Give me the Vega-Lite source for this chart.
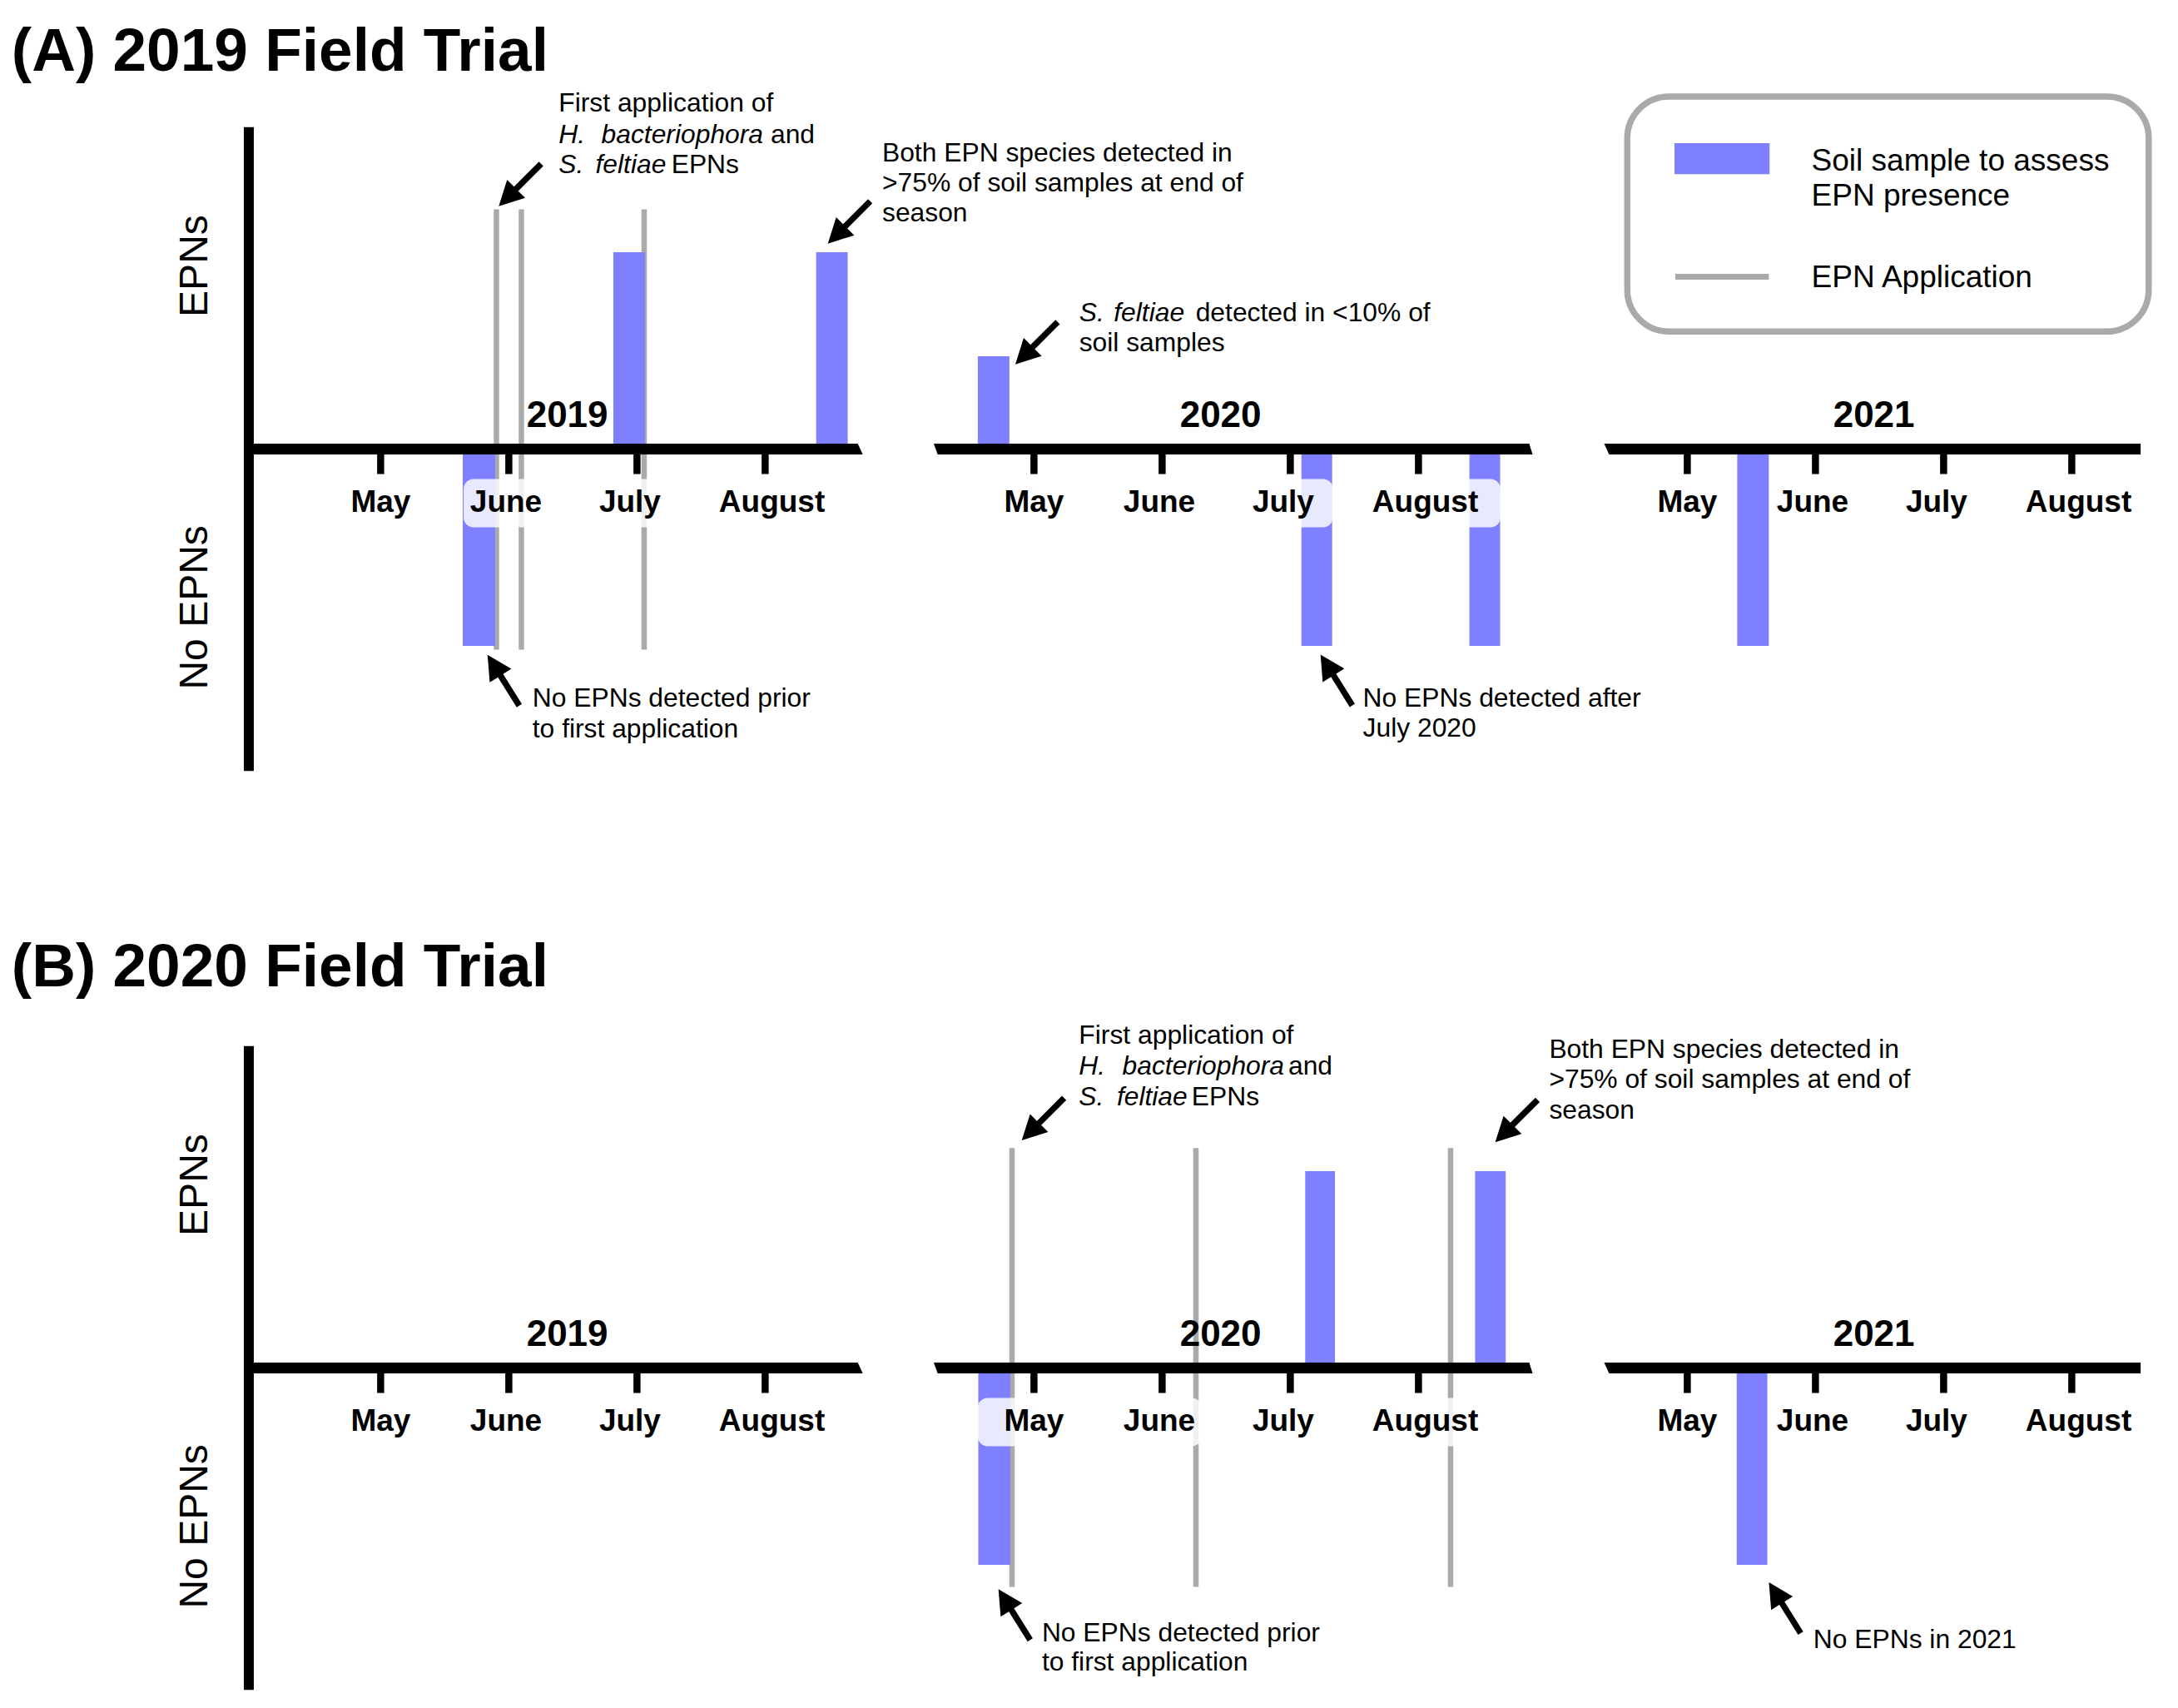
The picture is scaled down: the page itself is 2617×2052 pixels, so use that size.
{
  "$schema": "https://vega.github.io/schema/vega-lite/v6.json",
  "padding": 0,
  "background": "white",
  "bounds": "flush",
  "spacing": {"row": 156, "column": 0},
  "data": {"values": [
    {"kind":"axis","trial":"A","year":2019,"y":0.0275,"x":3.9714,"x2":8.7227},
    {"kind":"axis","trial":"A","year":2019,"y":-0.0275,"x":3.9714,"x2":8.7617},
    {"kind":"axis","trial":"A","year":2020,"y":0.0275,"x":4.2182,"x2":8.8643},
    {"kind":"axis","trial":"A","year":2020,"y":-0.0275,"x":4.2487,"x2":8.8903},
    {"kind":"axis","trial":"A","year":2021,"y":0.0275,"x":4.3513,"x2":8.5371},
    {"kind":"axis","trial":"A","year":2021,"y":-0.0275,"x":4.3903,"x2":8.5371},
    {"kind":"axis","trial":"B","year":2019,"y":0.0275,"x":3.9714,"x2":8.7227},
    {"kind":"axis","trial":"B","year":2019,"y":-0.0275,"x":3.9714,"x2":8.7617},
    {"kind":"axis","trial":"B","year":2020,"y":0.0275,"x":4.2182,"x2":8.8643},
    {"kind":"axis","trial":"B","year":2020,"y":-0.0275,"x":4.2487,"x2":8.8903},
    {"kind":"axis","trial":"B","year":2021,"y":0.0275,"x":4.3513,"x2":8.5371},
    {"kind":"axis","trial":"B","year":2021,"y":-0.0275,"x":4.3903,"x2":8.5371},

    {"kind":"vaxis","trial":"A","year":2019,"x":3.9714,"y":-1.635,"y2":1.635},
    {"kind":"vaxis","trial":"B","year":2019,"x":3.9714,"y":-1.635,"y2":1.635},

    {"kind":"month","trial":"A","year":2019,"x":5,"lx":5.0,"text":"May","b0":4.5604,"b1":5.38},
    {"kind":"month","trial":"A","year":2019,"x":6,"lx":5.978,"text":"June","b0":5.647,"b1":6.309},
    {"kind":"month","trial":"A","year":2019,"x":7,"lx":6.945,"text":"July","b0":6.564,"b1":7.333},
    {"kind":"month","trial":"A","year":2019,"x":8,"lx":8.053,"text":"August","b0":7.465,"b1":8.64},
    {"kind":"month","trial":"A","year":2020,"x":5,"lx":5.0,"text":"May","b0":4.5604,"b1":5.38},
    {"kind":"month","trial":"A","year":2020,"x":6,"lx":5.978,"text":"June","b0":5.647,"b1":6.309},
    {"kind":"month","trial":"A","year":2020,"x":7,"lx":6.945,"text":"July","b0":6.564,"b1":7.333},
    {"kind":"month","trial":"A","year":2020,"x":8,"lx":8.053,"text":"August","b0":7.465,"b1":8.64},
    {"kind":"month","trial":"A","year":2021,"x":5,"lx":5.0,"text":"May","b0":4.5604,"b1":5.38},
    {"kind":"month","trial":"A","year":2021,"x":6,"lx":5.978,"text":"June","b0":5.647,"b1":6.309},
    {"kind":"month","trial":"A","year":2021,"x":7,"lx":6.945,"text":"July","b0":6.564,"b1":7.333},
    {"kind":"month","trial":"A","year":2021,"x":8,"lx":8.053,"text":"August","b0":7.465,"b1":8.64},
    {"kind":"month","trial":"B","year":2019,"x":5,"lx":5.0,"text":"May","b0":4.5604,"b1":5.38},
    {"kind":"month","trial":"B","year":2019,"x":6,"lx":5.978,"text":"June","b0":5.647,"b1":6.309},
    {"kind":"month","trial":"B","year":2019,"x":7,"lx":6.945,"text":"July","b0":6.564,"b1":7.333},
    {"kind":"month","trial":"B","year":2019,"x":8,"lx":8.053,"text":"August","b0":7.465,"b1":8.64},
    {"kind":"month","trial":"B","year":2020,"x":5,"lx":5.0,"text":"May","b0":4.5604,"b1":5.38},
    {"kind":"month","trial":"B","year":2020,"x":6,"lx":5.978,"text":"June","b0":5.647,"b1":6.309},
    {"kind":"month","trial":"B","year":2020,"x":7,"lx":6.945,"text":"July","b0":6.564,"b1":7.333},
    {"kind":"month","trial":"B","year":2020,"x":8,"lx":8.053,"text":"August","b0":7.465,"b1":8.64},
    {"kind":"month","trial":"B","year":2021,"x":5,"lx":5.0,"text":"May","b0":4.5604,"b1":5.38},
    {"kind":"month","trial":"B","year":2021,"x":6,"lx":5.978,"text":"June","b0":5.647,"b1":6.309},
    {"kind":"month","trial":"B","year":2021,"x":7,"lx":6.945,"text":"July","b0":6.564,"b1":7.333},
    {"kind":"month","trial":"B","year":2021,"x":8,"lx":8.053,"text":"August","b0":7.465,"b1":8.64},

    {"kind":"year","trial":"A","year":2019,"x":6.456,"y":0.11,"text":"2019"},
    {"kind":"year","trial":"A","year":2020,"x":6.456,"y":0.11,"text":"2020"},
    {"kind":"year","trial":"A","year":2021,"x":6.456,"y":0.11,"text":"2021"},
    {"kind":"year","trial":"B","year":2019,"x":6.456,"y":0.11,"text":"2019"},
    {"kind":"year","trial":"B","year":2020,"x":6.456,"y":0.11,"text":"2020"},
    {"kind":"year","trial":"B","year":2021,"x":6.456,"y":0.11,"text":"2021"},

    {"kind":"ylab","trial":"A","year":2019,"x":3.647,"y":0.93,"text":"EPNs"},
    {"kind":"ylab","trial":"A","year":2019,"x":3.647,"y":-0.805,"text":"No EPNs"},
    {"kind":"ylab","trial":"B","year":2019,"x":3.647,"y":0.93,"text":"EPNs"},
    {"kind":"ylab","trial":"B","year":2019,"x":3.647,"y":-0.805,"text":"No EPNs"},

    {"kind":"title","trial":"A","year":2019,"x":2.12,"y":1.9218,"text":"(A) 2019 Field Trial"},
    {"kind":"title","trial":"B","year":2019,"x":2.12,"y":1.9387,"text":"(B) 2020 Field Trial"},

    {"kind":"app","trial":"A","year":2019,"x":5.9032,"y":1.2178,"y2":-1.0195},
    {"kind":"app","trial":"A","year":2019,"x":6.098,"y":1.2178,"y2":-1.0195},
    {"kind":"app","trial":"A","year":2019,"x":7.0558,"y":1.2178,"y2":-1.0195},
    {"kind":"app","trial":"B","year":2020,"x":4.8286,"y":1.117,"y2":-1.112},
    {"kind":"app","trial":"B","year":2020,"x":6.2636,"y":1.117,"y2":-1.112},
    {"kind":"app","trial":"B","year":2020,"x":8.2506,"y":1.117,"y2":-1.112},

    {"kind":"sample","trial":"A","year":2019,"x":5.6403,"x2":5.8935,"y":-1},
    {"kind":"sample","trial":"A","year":2019,"x":6.8155,"x2":7.0623,"y":1},
    {"kind":"sample","trial":"A","year":2019,"x":8.3981,"x2":8.6442,"y":1},
    {"kind":"sample","trial":"A","year":2020,"x":4.5617,"x2":4.8084,"y":0.4715},
    {"kind":"sample","trial":"A","year":2020,"x":7.0864,"x2":7.3266,"y":-1},
    {"kind":"sample","trial":"A","year":2020,"x":8.3974,"x2":8.637,"y":-1},
    {"kind":"sample","trial":"A","year":2021,"x":5.3896,"x2":5.6364,"y":-1},
    {"kind":"sample","trial":"B","year":2020,"x":4.5656,"x2":4.8156,"y":-1},
    {"kind":"sample","trial":"B","year":2020,"x":7.1162,"x2":7.3487,"y":1},
    {"kind":"sample","trial":"B","year":2020,"x":8.4416,"x2":8.6805,"y":1},
    {"kind":"sample","trial":"B","year":2021,"x":5.3857,"x2":5.6247,"y":-1},

    {"kind":"note","s":"n","trial":"A","year":2019,"x":6.389,"y":1.7125,"text":"First application of"},
    {"kind":"note","s":"i","trial":"A","year":2019,"x":6.389,"y":1.556,"text":"H."},
    {"kind":"note","s":"i","trial":"A","year":2019,"x":6.7221,"y":1.556,"text":"bacteriophora"},
    {"kind":"note","s":"n","trial":"A","year":2019,"x":8.0429,"y":1.556,"text":"and"},
    {"kind":"note","s":"i","trial":"A","year":2019,"x":6.389,"y":1.4021,"text":"S."},
    {"kind":"note","s":"i","trial":"A","year":2019,"x":6.676,"y":1.4021,"text":"feltiae"},
    {"kind":"note","s":"n","trial":"A","year":2019,"x":7.2682,"y":1.4021,"text":"EPNs"},
    {"kind":"note","s":"n","trial":"A","year":2019,"x":8.913,"y":1.4617,"text":"Both EPN species detected in"},
    {"kind":"note","s":"n","trial":"A","year":2019,"x":8.913,"y":1.3095,"text":">75% of soil samples at end of"},
    {"kind":"note","s":"n","trial":"A","year":2019,"x":8.913,"y":1.1569,"text":"season"},
    {"kind":"note","s":"n","trial":"A","year":2019,"x":6.1844,"y":-1.3066,"text":"No EPNs detected prior"},
    {"kind":"note","s":"n","trial":"A","year":2019,"x":6.1844,"y":-1.4651,"text":"to first application"},
    {"kind":"note","s":"i","trial":"A","year":2020,"x":5.3526,"y":0.649,"text":"S."},
    {"kind":"note","s":"i","trial":"A","year":2020,"x":5.6227,"y":0.649,"text":"feltiae"},
    {"kind":"note","s":"n","trial":"A","year":2020,"x":6.2617,"y":0.649,"text":"detected in <10% of"},
    {"kind":"note","s":"n","trial":"A","year":2020,"x":5.3526,"y":0.4981,"text":"soil samples"},
    {"kind":"note","s":"n","trial":"A","year":2020,"x":7.5662,"y":-1.307,"text":"No EPNs detected after"},
    {"kind":"note","s":"n","trial":"A","year":2020,"x":7.5662,"y":-1.4596,"text":"July 2020"},
    {"kind":"note","s":"n","trial":"B","year":2020,"x":5.3506,"y":1.6457,"text":"First application of"},
    {"kind":"note","s":"i","trial":"B","year":2020,"x":5.3506,"y":1.4892,"text":"H."},
    {"kind":"note","s":"i","trial":"B","year":2020,"x":5.6896,"y":1.4892,"text":"bacteriophora"},
    {"kind":"note","s":"n","trial":"B","year":2020,"x":6.9844,"y":1.4892,"text":"and"},
    {"kind":"note","s":"i","trial":"B","year":2020,"x":5.3506,"y":1.3353,"text":"S."},
    {"kind":"note","s":"i","trial":"B","year":2020,"x":5.6461,"y":1.3353,"text":"feltiae"},
    {"kind":"note","s":"n","trial":"B","year":2020,"x":6.2299,"y":1.3353,"text":"EPNs"},
    {"kind":"note","s":"n","trial":"B","year":2020,"x":9.0195,"y":1.5763,"text":"Both EPN species detected in"},
    {"kind":"note","s":"n","trial":"B","year":2020,"x":9.0195,"y":1.4211,"text":">75% of soil samples at end of"},
    {"kind":"note","s":"n","trial":"B","year":2020,"x":9.0195,"y":1.266,"text":"season"},
    {"kind":"note","s":"n","trial":"B","year":2020,"x":5.0617,"y":-1.3877,"text":"No EPNs detected prior"},
    {"kind":"note","s":"n","trial":"B","year":2020,"x":5.0617,"y":-1.537,"text":"to first application"},
    {"kind":"note","s":"n","trial":"B","year":2021,"x":5.9831,"y":-1.4224,"text":"No EPNs in 2021"},

    {"kind":"arrow","dir":"dl","trial":"A","year":2019,"x":5.9214,"y":1.2338},
    {"kind":"arrow","dir":"ul","trial":"A","year":2019,"x":5.8338,"y":-1.0452},
    {"kind":"arrow","dir":"dl","trial":"A","year":2019,"x":8.489,"y":1.0436},
    {"kind":"arrow","dir":"dl","trial":"A","year":2020,"x":4.8545,"y":0.4304},
    {"kind":"arrow","dir":"ul","trial":"A","year":2020,"x":7.2357,"y":-1.044},
    {"kind":"arrow","dir":"dl","trial":"B","year":2020,"x":4.9045,"y":1.156},
    {"kind":"arrow","dir":"dl","trial":"B","year":2020,"x":8.5987,"y":1.1467},
    {"kind":"arrow","dir":"ul","trial":"B","year":2020,"x":4.7227,"y":-1.1235},
    {"kind":"arrow","dir":"ul","trial":"B","year":2021,"x":5.637,"y":-1.0892},

    {"kind":"legbox","trial":"A","year":2021,"x":4.5318,"x2":8.6,"y":1.7907,"y2":0.597},
    {"kind":"legswatch","trial":"A","year":2021,"x":4.9,"x2":5.6422,"y":1.5539,"y2":1.3962},
    {"kind":"legline","trial":"A","year":2021,"x":4.9065,"x2":5.6364,"y":0.8753},
    {"kind":"legtext","trial":"A","year":2021,"x":5.9688,"y":1.4144,"text":"Soil sample to assess"},
    {"kind":"legtext","trial":"A","year":2021,"x":5.9688,"y":1.2381,"text":"EPN presence"},
    {"kind":"legtext","trial":"A","year":2021,"x":5.9688,"y":0.8224,"text":"EPN Application"}
  ]},
  "facet": {
    "row": {"field": "trial", "type": "nominal", "header": null},
    "column": {"field": "year", "type": "ordinal", "header": null}
  },
  "spec": {
    "width": 785,
    "height": 948,
    "encoding": {
      "x": {"field": "x", "type": "quantitative", "scale": {"domain": [2.03, 7.1274], "nice": false, "zero": false}, "axis": null}
    },
    "layer": [
      {"transform": [{"filter": "datum.kind == 'app'"}],
       "mark": {"type": "rule", "color": "#aaaaaa", "strokeWidth": 6.5},
       "encoding": {"y": {"field": "y", "type": "quantitative", "scale": {"domain": [-1.7273, 2.2812], "nice": false, "zero": false}, "axis": null}, "y2": {"field": "y2"}}},
      {"transform": [{"filter": "datum.kind == 'sample'"}],
       "mark": {"type": "rect", "color": "#7f80ff"},
       "encoding": {"x2": {"field": "x2"}, "y": {"field": "y", "type": "quantitative", "scale": {"domain": [-1.7273, 2.2812], "nice": false, "zero": false}, "axis": null}, "y2": {"datum": 0}}},
      {"transform": [{"filter": "datum.kind == 'month'"}],
       "mark": {"type": "rect", "fill": "white", "opacity": 0.82, "cornerRadius": 12},
       "encoding": {"x": {"field": "b0", "type": "quantitative", "axis": null}, "x2": {"field": "b1"}, "y": {"datum": -0.152, "type": "quantitative", "scale": {"domain": [-1.7273, 2.2812], "nice": false, "zero": false}, "axis": null}, "y2": {"datum": -0.397}}},
      {"transform": [{"filter": "datum.kind == 'axis'"}],
       "mark": {"type": "area", "orient": "horizontal", "color": "black"},
       "encoding": {"x": {"field": "x", "type": "quantitative", "stack": null, "axis": null}, "x2": {"field": "x2"}, "y": {"field": "y", "type": "quantitative", "scale": {"domain": [-1.7273, 2.2812], "nice": false, "zero": false}, "axis": null}}},
      {"transform": [{"filter": "datum.kind == 'vaxis'"}],
       "mark": {"type": "rule", "color": "black", "strokeWidth": 12},
       "encoding": {"y": {"field": "y", "type": "quantitative", "scale": {"domain": [-1.7273, 2.2812], "nice": false, "zero": false}, "axis": null}, "y2": {"field": "y2"}}},
      {"transform": [{"filter": "datum.kind == 'month'"}],
       "mark": {"type": "rule", "color": "black", "strokeWidth": 8.5},
       "encoding": {"y": {"datum": 0, "type": "quantitative", "scale": {"domain": [-1.7273, 2.2812], "nice": false, "zero": false}, "axis": null}, "y2": {"datum": -0.127}}},
      {"transform": [{"filter": "datum.kind == 'month'"}],
       "mark": {"type": "text", "font": "Liberation Sans", "fontWeight": "bold", "fontSize": 37, "align": "center", "baseline": "alphabetic", "color": "black"},
       "encoding": {"x": {"field": "lx", "type": "quantitative", "axis": null}, "y": {"datum": -0.3192, "type": "quantitative", "scale": {"domain": [-1.7273, 2.2812], "nice": false, "zero": false}, "axis": null}, "text": {"field": "text"}}},
      {"transform": [{"filter": "datum.kind == 'year'"}],
       "mark": {"type": "text", "font": "Liberation Sans", "fontWeight": "bold", "fontSize": 44, "align": "center", "baseline": "alphabetic", "color": "black"},
       "encoding": {"y": {"field": "y", "type": "quantitative", "scale": {"domain": [-1.7273, 2.2812], "nice": false, "zero": false}, "axis": null}, "text": {"field": "text"}}},
      {"transform": [{"filter": "datum.kind == 'ylab'"}],
       "mark": {"type": "text", "font": "Liberation Sans", "fontSize": 48, "angle": 270, "align": "center", "baseline": "alphabetic", "color": "black"},
       "encoding": {"y": {"field": "y", "type": "quantitative", "scale": {"domain": [-1.7273, 2.2812], "nice": false, "zero": false}, "axis": null}, "text": {"field": "text"}}},
      {"transform": [{"filter": "datum.kind == 'title'"}],
       "mark": {"type": "text", "font": "Liberation Sans", "fontWeight": "bold", "fontSize": 73, "align": "left", "baseline": "alphabetic", "color": "black"},
       "encoding": {"y": {"field": "y", "type": "quantitative", "scale": {"domain": [-1.7273, 2.2812], "nice": false, "zero": false}, "axis": null}, "text": {"field": "text"}}},
      {"transform": [{"filter": "datum.kind == 'note' && datum.s == 'n'"}],
       "mark": {"type": "text", "font": "Liberation Sans", "fontSize": 31.8, "align": "left", "baseline": "alphabetic", "color": "black"},
       "encoding": {"y": {"field": "y", "type": "quantitative", "scale": {"domain": [-1.7273, 2.2812], "nice": false, "zero": false}, "axis": null}, "text": {"field": "text"}}},
      {"transform": [{"filter": "datum.kind == 'note' && datum.s == 'i'"}],
       "mark": {"type": "text", "font": "Liberation Sans", "fontStyle": "italic", "fontSize": 31.8, "align": "left", "baseline": "alphabetic", "color": "black"},
       "encoding": {"y": {"field": "y", "type": "quantitative", "scale": {"domain": [-1.7273, 2.2812], "nice": false, "zero": false}, "axis": null}, "text": {"field": "text"}}},
      {"transform": [{"filter": "datum.kind == 'arrow' && datum.dir == 'dl'"}],
       "mark": {"type": "point", "shape": "M0,0L1.53,2.95L0.365,2.95L0.365,7.2L-0.365,7.2L-0.365,2.95L-1.53,2.95Z", "size": 400, "angle": 225, "filled": true, "color": "black", "opacity": 1, "strokeWidth": 0},
       "encoding": {"y": {"field": "y", "type": "quantitative", "scale": {"domain": [-1.7273, 2.2812], "nice": false, "zero": false}, "axis": null}}},
      {"transform": [{"filter": "datum.kind == 'arrow' && datum.dir == 'ul'"}],
       "mark": {"type": "point", "shape": "M0,0L1.53,2.95L0.365,2.95L0.365,7.2L-0.365,7.2L-0.365,2.95L-1.53,2.95Z", "size": 400, "angle": 328, "filled": true, "color": "black", "opacity": 1, "strokeWidth": 0},
       "encoding": {"y": {"field": "y", "type": "quantitative", "scale": {"domain": [-1.7273, 2.2812], "nice": false, "zero": false}, "axis": null}}},
      {"transform": [{"filter": "datum.kind == 'legbox'"}],
       "mark": {"type": "rect", "fill": "white", "stroke": "#aaaaaa", "strokeWidth": 7.5, "cornerRadius": 50},
       "encoding": {"x2": {"field": "x2"}, "y": {"field": "y", "type": "quantitative", "scale": {"domain": [-1.7273, 2.2812], "nice": false, "zero": false}, "axis": null}, "y2": {"field": "y2"}}},
      {"transform": [{"filter": "datum.kind == 'legswatch'"}],
       "mark": {"type": "rect", "color": "#7f80ff"},
       "encoding": {"x2": {"field": "x2"}, "y": {"field": "y", "type": "quantitative", "scale": {"domain": [-1.7273, 2.2812], "nice": false, "zero": false}, "axis": null}, "y2": {"field": "y2"}}},
      {"transform": [{"filter": "datum.kind == 'legline'"}],
       "mark": {"type": "rule", "color": "#aaaaaa", "strokeWidth": 7},
       "encoding": {"x2": {"field": "x2"}, "y": {"field": "y", "type": "quantitative", "scale": {"domain": [-1.7273, 2.2812], "nice": false, "zero": false}, "axis": null}}},
      {"transform": [{"filter": "datum.kind == 'legtext'"}],
       "mark": {"type": "text", "font": "Liberation Sans", "fontSize": 37, "align": "left", "baseline": "alphabetic", "color": "black"},
       "encoding": {"y": {"field": "y", "type": "quantitative", "scale": {"domain": [-1.7273, 2.2812], "nice": false, "zero": false}, "axis": null}, "text": {"field": "text"}}}
    ]
  },
  "config": {
    "view": {"stroke": null},
    "axis": {"disable": true}
  }
}
